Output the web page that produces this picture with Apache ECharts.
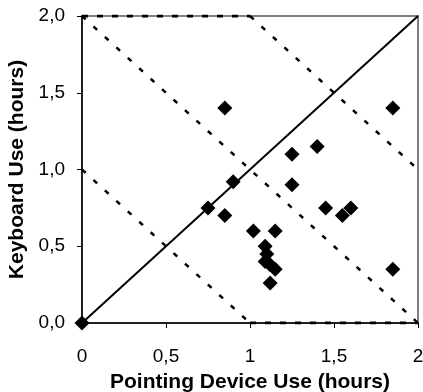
<!DOCTYPE html>
<html>
<head>
<meta charset="utf-8">
<script src="https://cdn.jsdelivr.net/npm/echarts@6/dist/echarts.min.js"></script>
<style>
html,body{margin:0;padding:0;background:#fff;}
#chart{width:423px;height:392px;}
</style>
</head>
<body>
<div id="chart"></div>
<script>
// Scatter values (hours)
const pointingUse = [0, 0.85, 1.85, 1.40, 1.25, 1.25, 0.90, 0.75, 0.85, 1.45, 1.55, 1.60, 1.02, 1.15, 1.09, 1.10, 1.09, 1.12, 1.15, 1.12, 1.85];
const keyboardUse = [0, 1.40, 1.40, 1.15, 1.10, 0.90, 0.92, 0.75, 0.70, 0.75, 0.70, 0.75, 0.60, 0.60, 0.50, 0.45, 0.40, 0.38, 0.35, 0.26, 0.35];
// Reference lines
const equalLine = [[0, 0], [2, 2]];
const totalOne = [[0, 1], [1, 0]];
const totalTwo = [[0, 2], [2, 0]];
const totalThree = [[1, 2], [2, 1]];
const topEdge = [[0, 2], [1, 2]];
const bottomEdge = [[1, 0], [2, 0]];
// Axis ticks
const axisMin = 0, axisMax = 2, axisStep = 0.5;

const points = pointingUse.map((x, i) => [x, keyboardUse[i]]);
const fmtX = v => String(v).replace('.', ',');
const fmtY = v => v.toFixed(1).replace('.', ',');

const dotStyle = {color: '#000', width: 2.5, type: [5, 10.5]};
const lineSeries = (data, style) => ({
  type: 'line', data: data, showSymbol: false, symbol: 'none', silent: true,
  lineStyle: style, z: 3, animation: false
});

const chart = echarts.init(document.getElementById('chart'));
chart.setOption({
  animation: false,
  grid: {left: 82, right: 5, top: 16, bottom: 69, show: true, borderColor: '#808080', borderWidth: 2, containLabel: false, outerBoundsMode: 'none'},
  xAxis: {
    type: 'value', min: axisMin, max: axisMax, interval: axisStep,
    name: 'Pointing Device Use (hours)', nameLocation: 'middle', nameGap: 49,
    nameTextStyle: {fontFamily: 'Liberation Sans', fontWeight: 'bold', fontSize: 21, color: '#000'},
    axisLine: {show: true, onZero: false, lineStyle: {color: '#000', width: 1.5}},
    axisTick: {show: true, inside: false, length: 5, lineStyle: {color: '#000'}},
    axisLabel: {fontFamily: 'Liberation Sans', fontSize: 19, color: '#000', margin: 24, formatter: fmtX, hideOverlap: false},
    splitLine: {show: false}
  },
  yAxis: {
    type: 'value', min: axisMin, max: axisMax, interval: axisStep,
    name: 'Keyboard Use (hours)', nameLocation: 'middle', nameGap: 50, nameRotate: 90,
    nameTextStyle: {fontFamily: 'Liberation Sans', fontWeight: 'bold', fontSize: 21, color: '#000'},
    axisLine: {show: true, onZero: false, lineStyle: {color: '#000', width: 1.5}},
    axisTick: {show: true, inside: false, length: 5, lineStyle: {color: '#000'}},
    axisLabel: {fontFamily: 'Liberation Sans', fontSize: 19, color: '#000', margin: 17, formatter: fmtY},
    splitLine: {show: false}
  },
  series: [
    lineSeries(totalOne, dotStyle),
    lineSeries(totalTwo, dotStyle),
    lineSeries(totalThree, dotStyle),
    lineSeries(topEdge, {color: '#000', width: 3, type: [6, 9]}),
    lineSeries(bottomEdge, {color: '#000', width: 3, type: [6, 9]}),
    lineSeries(equalLine, {color: '#000', width: 2, type: 'solid'}),
    {
      type: 'scatter', data: points, symbol: 'diamond', symbolSize: 15,
      itemStyle: {color: '#000', opacity: 1}, z: 5, clip: false
    }
  ]
});
</script>
</body>
</html>
